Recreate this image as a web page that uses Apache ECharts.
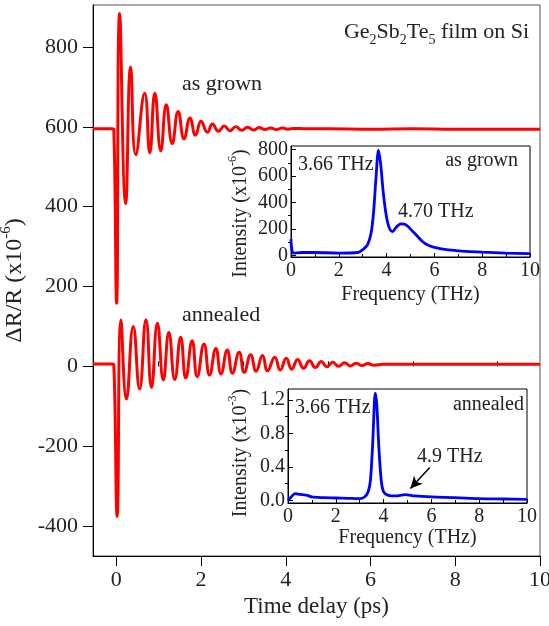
<!DOCTYPE html>
<html><head><meta charset="utf-8">
<script src="https://cdn.jsdelivr.net/npm/echarts@6/dist/echarts.min.js"></script>
<style>html,body{margin:0;padding:0;background:#fff}#c{width:549px;height:626px}</style>
</head><body><div id="c"></div>
<script>
// ---- data ----
const asGrown = [[-0.55,595],[-0.09,595],[-0.06,594],[0.007,158],[0.078,884],[0.22,407],[0.338,750],[0.46,530],[0.67,684],[0.79,535],[0.91,684],[1.05,540],[1.18,655],[1.32,558],[1.46,638],[1.6,570],[1.74,622],[1.87,579],[2.0,614],[2.15,586],[2.27,607],[2.41,589],[2.55,602],[2.68,590],[2.82,600],[2.96,591],[3.1,599],[3.24,592],[3.37,598],[3.51,593],[3.64,597],[3.78,593],[3.92,597],[4.05,594],[4.2,596],[4.5,595],[5,595],[6,594],[7,595],[8,594],[9,594],[10,594]];
const annealed = [[-0.55,6],[-0.09,6],[-0.06,5],[0.02,-376],[0.11,116],[0.24,-82],[0.40,100],[0.55,-57],[0.70,117],[0.83,-53],[0.97,108],[1.11,-34],[1.24,85],[1.38,-33],[1.52,73],[1.64,-29],[1.79,64],[1.91,-26],[2.07,56],[2.2,-22],[2.35,45],[2.47,-19],[2.62,41],[2.74,-17],[2.9,35],[3.02,-15],[3.17,29],[3.3,-12],[3.45,27],[3.57,-11],[3.74,23],[3.87,-9],[4.01,20],[4.14,-7],[4.28,17],[4.42,-5],[4.56,14],[4.7,-3],[4.84,12],[4.97,-1],[5.11,10],[5.25,0],[5.39,9],[5.52,1],[5.66,8],[5.8,2],[5.94,7],[6.07,3],[6.3,5],[7,5],[8,5],[9,5],[10,5]];
const fftAsGrown = [[0,123],[0.1,18],[0.5,22],[1,22],[2,18],[2.8,22],[3.0,43],[3.2,80],[3.35,168],[3.45,318],[3.55,569],[3.66,795],[3.75,694],[3.85,494],[3.95,343],[4.05,243],[4.15,193],[4.25,180],[4.4,213],[4.6,238],[4.75,236],[4.9,218],[5.1,180],[5.3,143],[5.5,105],[5.7,80],[6,60],[6.5,43],[7,35],[8,25],[9,18],[10,13]];
const fftAnnealed = [[0,0.0],[0.1,0.03],[0.3,0.08],[0.5,0.072],[0.8,0.06],[1.0,0.04],[1.5,0.032],[2,0.028],[2.5,0.024],[3.0,0.02],[3.2,0.04],[3.35,0.1],[3.45,0.24],[3.55,0.72],[3.62,1.2],[3.66,1.28],[3.72,1.12],[3.8,0.64],[3.9,0.24],[4.0,0.1],[4.2,0.06],[4.5,0.052],[4.9,0.068],[5.3,0.052],[6,0.04],[7,0.032],[8,0.02],[9,0.016],[10,0.012]];
const arrow49 = [[5.93,0.392],[5.12,0.14]];
// ---- ticks ----
const mainXTicks = [0,2,4,6,8,10];
const mainXMinor = [1,3,5,7,9];
const mainYTicks = [-400,-200,0,200,400,600,800];
const in1YTicks = [0,200,400,600,800];
const in1YMinor = [100,300,500,700];
const in2YTicks = [0,0.4,0.8,1.2];
const in2YMinor = [0.2,0.6,1.0];

const FF = 'Liberation Serif';
const TC = '#222';
function rich(size){
  return {
    n:{fontSize:size,fontFamily:FF,fontWeight:'normal',color:TC,lineHeight:size+8,verticalAlign:'middle'},
    s:{fontSize:Math.round(size*0.62),fontFamily:FF,fontWeight:'normal',color:TC,lineHeight:Math.round(size*0.62),verticalAlign:'bottom'},
    p:{fontSize:Math.round(size*0.62),fontFamily:FF,fontWeight:'normal',color:TC,lineHeight:Math.round(size*0.62),verticalAlign:'top'}
  };
}
const chart = echarts.init(document.getElementById('c'), null, {renderer:'canvas'});
const lbl = (size, extra) => Object.assign({fontSize:size,fontFamily:FF,color:TC}, extra||{});
const minorAxis = (grid, min, max, vals, len, inside) => ({
  type:'value', gridIndex:grid, min:min, max:max,
  axisLine:{show:false},
  axisTick:{show:true, inside:inside, length:len, customValues:vals, lineStyle:{color:'#000',width:1}},
  axisLabel:{show:false, customValues:vals},
  splitLine:{show:false}
});
const option = {
  animation:false,
  backgroundColor:'#fff',
  title:{
    text:'{n|Ge}{s|2}{n|Sb}{s|2}{n|Te}{s|5}{n| film on Si}',
    right:15, top:12,
    textStyle:{fontWeight:'normal', rich:rich(22)}
  },
  grid:[
    {left:93, top:5, width:447, height:551, show:true, borderColor:'#555', borderWidth:1, outerBoundsMode:'none'},
    {left:291, top:146, width:239, height:111, show:true, borderColor:'#000', borderWidth:1, outerBoundsMode:'none'},
    {left:288, top:389, width:239, height:114, show:true, borderColor:'#000', borderWidth:1, outerBoundsMode:'none'}
  ],
  xAxis:[
    {type:'value', gridIndex:0, min:-0.55, max:10,
     axisLine:{show:true,onZero:false,lineStyle:{color:'#000',width:1}},
     axisTick:{show:true,length:10,customValues:mainXTicks,lineStyle:{color:'#000'}},
     axisLabel:lbl(22,{margin:13,customValues:mainXTicks}),
     splitLine:{show:false},
     name:'Time delay (ps)', nameLocation:'middle', nameGap:37,
     nameTextStyle:lbl(23)},
    minorAxis(0,-0.55,10,mainXMinor,5,false),
    {type:'value', gridIndex:1, min:0, max:10, interval:2,
     axisLine:{show:true,onZero:false,lineStyle:{color:'#000',width:1}},
     axisTick:{show:true,inside:true,length:4,lineStyle:{color:'#000'}},
     minorTick:{show:true,splitNumber:2,length:3,lineStyle:{color:'#000'}},
     axisLabel:lbl(20,{margin:4}),
     splitLine:{show:false},
     name:'Frequency (THz)', nameLocation:'middle', nameGap:28,
     nameTextStyle:lbl(20)},
    {type:'value', gridIndex:2, min:0, max:10, interval:2,
     axisLine:{show:true,onZero:false,lineStyle:{color:'#000',width:1}},
     axisTick:{show:true,inside:true,length:4,lineStyle:{color:'#000'}},
     minorTick:{show:true,splitNumber:2,length:3,lineStyle:{color:'#000'}},
     axisLabel:lbl(20,{margin:4}),
     splitLine:{show:false},
     name:'Frequency (THz)', nameLocation:'middle', nameGap:22,
     nameTextStyle:lbl(20)}
  ],
  yAxis:[
    {type:'value', gridIndex:0, min:-475, max:905,
     axisLine:{show:true,onZero:false,lineStyle:{color:'#000',width:1}},
     axisTick:{show:true,length:10,customValues:mainYTicks,lineStyle:{color:'#000'}},
     axisLabel:lbl(22,{margin:15,customValues:mainYTicks}),
     splitLine:{show:false},
     name:'{n|ΔR/R (x10}{p|-6}{n|)}', nameLocation:'middle', nameGap:58, nameRotate:90,
     nameTextStyle:{rich:rich(24)}},
    {type:'value', gridIndex:1, min:-12, max:827,
     axisLine:{show:true,onZero:false,lineStyle:{color:'#000',width:1}},
     axisTick:{show:true,inside:true,length:5,customValues:in1YTicks,lineStyle:{color:'#000'}},
     axisLabel:lbl(20,{margin:3,customValues:in1YTicks}),
     splitLine:{show:false},
     name:'{n|Intensity (x10}{p|-6}{n|)}', nameLocation:'middle', nameGap:36, nameRotate:90,
     nameTextStyle:{rich:rich(20), padding:[0,24,0,0]}},
    minorAxis(1,-12,827,in1YMinor,3,true),
    {type:'value', gridIndex:2, min:-0.032, max:1.33,
     axisLine:{show:true,onZero:false,lineStyle:{color:'#000',width:1}},
     axisTick:{show:true,inside:true,length:5,customValues:in2YTicks,lineStyle:{color:'#000'}},
     axisLabel:lbl(20,{margin:3,customValues:in2YTicks,formatter:v=>v.toFixed(1)}),
     splitLine:{show:false},
     name:'{n|Intensity (x10}{p|-3}{n|)}', nameLocation:'middle', nameGap:33, nameRotate:90,
     nameTextStyle:{rich:rich(20), padding:[0,14,0,0]}},
    minorAxis(2,-0.032,1.33,in2YMinor,3,true)
  ],
  series:[
    {type:'line', xAxisIndex:0, yAxisIndex:0, data:asGrown, smooth:0.5, showSymbol:false,
     lineStyle:{color:'#ff0000',width:3}},
    {type:'line', xAxisIndex:0, yAxisIndex:0, data:annealed, smooth:0.5, showSymbol:false,
     lineStyle:{color:'#ff0000',width:3}},
    {type:'line', xAxisIndex:2, yAxisIndex:1, data:fftAsGrown, smooth:0.3, showSymbol:false,
     lineStyle:{color:'#0000ff',width:2.8}},
    {type:'line', xAxisIndex:3, yAxisIndex:3, data:fftAnnealed, smooth:0.3, showSymbol:false,
     lineStyle:{color:'#0000ff',width:2.8},
     markLine:{silent:true, symbol:['none','arrow'], symbolSize:[9,12], label:{show:false},
       lineStyle:{color:'#000',width:1.5,type:'solid'},
       data:[[{coord:arrow49[0]},{coord:arrow49[1]}]]}}
  ],
  graphic:[
    {type:'text', x:182, y:84, style:{text:'as grown', font:'22px "Liberation Serif"', fill:TC, verticalAlign:'middle', textVerticalAlign:'middle'}},
    {type:'text', x:182, y:315, style:{text:'annealed', font:'22px "Liberation Serif"', fill:TC, verticalAlign:'middle', textVerticalAlign:'middle'}},
    {type:'text', x:298, y:165, style:{text:'3.66 THz', font:'20px "Liberation Serif"', fill:TC, verticalAlign:'middle', textVerticalAlign:'middle'}},
    {type:'text', x:398, y:212, style:{text:'4.70 THz', font:'20px "Liberation Serif"', fill:TC, verticalAlign:'middle', textVerticalAlign:'middle'}},
    {type:'text', x:518, y:161, style:{text:'as grown', font:'20px "Liberation Serif"', fill:TC, align:'right', textAlign:'right', verticalAlign:'middle', textVerticalAlign:'middle'}},
    {type:'text', x:295, y:408, style:{text:'3.66 THz', font:'20px "Liberation Serif"', fill:TC, verticalAlign:'middle', textVerticalAlign:'middle'}},
    {type:'text', x:524, y:405, style:{text:'annealed', font:'20px "Liberation Serif"', fill:TC, align:'right', textAlign:'right', verticalAlign:'middle', textVerticalAlign:'middle'}},
    {type:'text', x:417, y:457, style:{text:'4.9 THz', font:'20px "Liberation Serif"', fill:TC, verticalAlign:'middle', textVerticalAlign:'middle'}}
  ]
};
chart.setOption(option);
</script>
</body></html>
